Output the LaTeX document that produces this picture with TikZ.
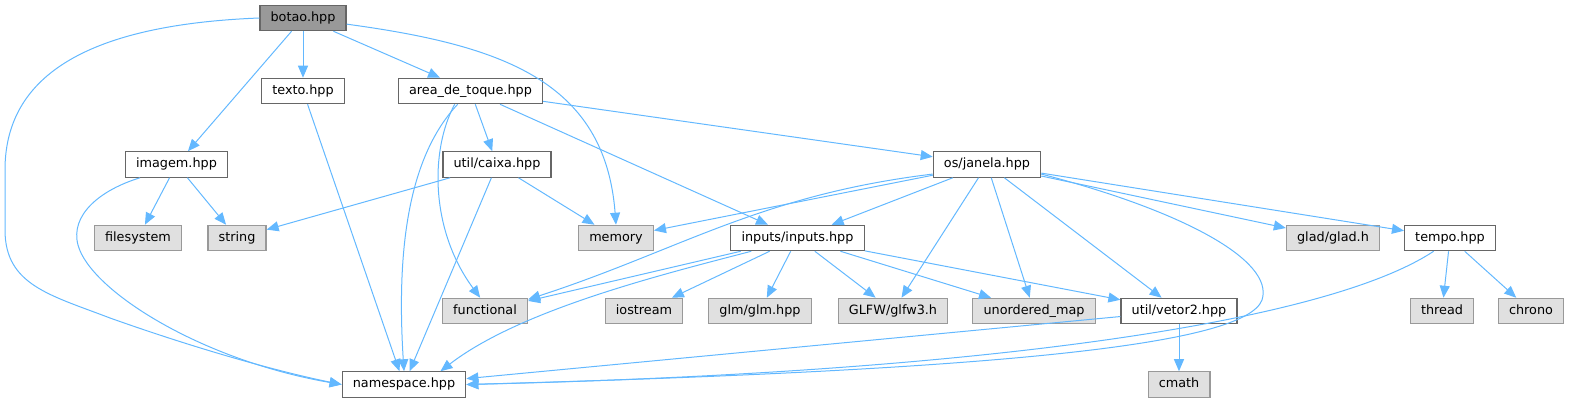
\documentclass[tikz,border=0pt]{standalone}
\usepackage{fontspec}
\setmainfont{DejaVu Sans}
\usetikzlibrary{arrows.meta}

\definecolor{edgeblue}{HTML}{63B8FF}
\definecolor{nodeline}{HTML}{666666}
\definecolor{sysline}{HTML}{999999}
\definecolor{sysfill}{HTML}{E0E0E0}
\definecolor{rootfill}{HTML}{999999}

\begin{document}
\begin{tikzpicture}[
  x=0.75pt, y=-0.75pt,
  every node/.style={draw, rectangle, font=\fontsize{9.6}{11}\selectfont,
    inner xsep=8pt, inner ysep=4.8pt, text height=7.2pt, text depth=2.2pt,
    line width=0.9pt},
  hfile/.style={draw=nodeline, fill=white},
  sysfile/.style={draw=sysline, fill=sysfill},
  rootfile/.style={draw=nodeline, fill=rootfill},
  incl/.style={draw=edgeblue, line width=0.75pt,
    -{Triangle[length=9pt,width=7.5pt]}}
]
  \useasboundingbox (0,0) rectangle (1572,403);

  % headers, row by row
  \node[rootfile] (botao) at (303,18) {botao.hpp};
  \node[hfile] (texto) at (303,91) {texto.hpp};
  \node[hfile] (area) at (470.5,91) {area\_de\_toque.hpp};
  \node[hfile] (imagem) at (176.5,164.5) {imagem.hpp};
  \node[hfile] (caixa) at (497,164.5) {util/caixa.hpp};
  \node[hfile] (janela) at (987,164.5) {os/janela.hpp};
  \node[sysfile] (filesystem) at (138,238) {filesystem};
  \node[sysfile] (string) at (237,238) {string};
  \node[sysfile] (memory) at (616,238) {memory};
  \node[hfile] (inputs) at (797.5,238) {inputs/inputs.hpp};
  \node[sysfile] (glad) at (1333,238) {glad/glad.h};
  \node[hfile] (tempo) at (1450,238) {tempo.hpp};
  \node[sysfile] (functional) at (485,311) {functional};
  \node[sysfile] (iostream) at (644,311) {iostream};
  \node[sysfile] (glm) at (760,311) {glm/glm.hpp};
  \node[sysfile] (glfw) at (893,311) {GLFW/glfw3.h};
  \node[sysfile] (umap) at (1034,311) {unordered\_map};
  \node[hfile] (vetor2) at (1179,311) {util/vetor2.hpp};
  \node[sysfile] (thread) at (1442,311) {thread};
  \node[sysfile] (chrono) at (1531,311) {chrono};
  \node[hfile] (namespace) at (404,384.5) {namespace.hpp};
  \node[sysfile] (cmath) at (1179,384.5) {cmath};

  % botao.hpp
  \draw[incl] (botao) -- (texto);
  \draw[incl] (botao) -- (area);
  \draw[incl] (botao) -- (imagem);
  \draw[incl] (botao.-8) .. controls (500,45) and (605,80) .. (memory.north);
  \draw[incl] (botao.west) .. controls (80,25) and (5,80) .. (5,170) -- (5,230)
    .. controls (5,285) and (50,295) .. (110,318)
    .. controls (200,350) and (280,372) .. (namespace.west);

  % texto.hpp, area_de_toque.hpp
  \draw[incl] (texto) -- (namespace);
  \draw[incl] (area) -- (caixa);
  \draw[incl] (area) -- (janela);
  \draw[incl] (area) -- (inputs);
  \draw[incl] (area.-134) .. controls (415,150) and (395,230) .. (namespace.north);
  \draw[incl] (area.-140) .. controls (430,150) and (430,230) .. (functional.110);

  % imagem.hpp, util/caixa.hpp
  \draw[incl] (imagem) -- (filesystem);
  \draw[incl] (imagem) -- (string);
  \draw[incl] (imagem.-160) .. controls (100,190) and (70,215) .. (78,245)
    .. controls (90,290) and (200,360) .. (namespace.west);
  \draw[incl] (caixa) -- (string);
  \draw[incl] (caixa) -- (memory);
  \draw[incl] (caixa) -- (namespace);

  % os/janela.hpp
  \draw[incl] (janela) -- (memory);
  \draw[incl] (janela.-170) .. controls (760,195) and (680,250) .. (functional.15);
  \draw[incl] (janela) -- (inputs);
  \draw[incl] (janela) -- (glfw);
  \draw[incl] (janela) -- (umap);
  \draw[incl] (janela) -- (vetor2);
  \draw[incl] (janela) -- (glad);
  \draw[incl] (janela) -- (tempo);
  \draw[incl] (janela.-10) .. controls (1180,210) and (1275,260) .. (1262,300)
    .. controls (1245,345) and (1000,370) .. (namespace.east);

  % inputs/inputs.hpp
  \draw[incl] (inputs) -- (functional);
  \draw[incl] (inputs.-164) .. controls (660,275) and (520,310) .. (namespace.20);
  \draw[incl] (inputs) -- (iostream);
  \draw[incl] (inputs) -- (glm);
  \draw[incl] (inputs) -- (glfw);
  \draw[incl] (inputs) -- (umap);
  \draw[incl] (inputs) -- (vetor2);

  % util/vetor2.hpp, tempo.hpp
  \draw[incl] (vetor2) -- (namespace);
  \draw[incl] (vetor2) -- (cmath);
  \draw[incl] (tempo) -- (thread);
  \draw[incl] (tempo) -- (chrono);
  \draw[incl] (tempo.-141) .. controls (1330,320) and (1000,372) .. (namespace.east);
\end{tikzpicture}
\end{document}
